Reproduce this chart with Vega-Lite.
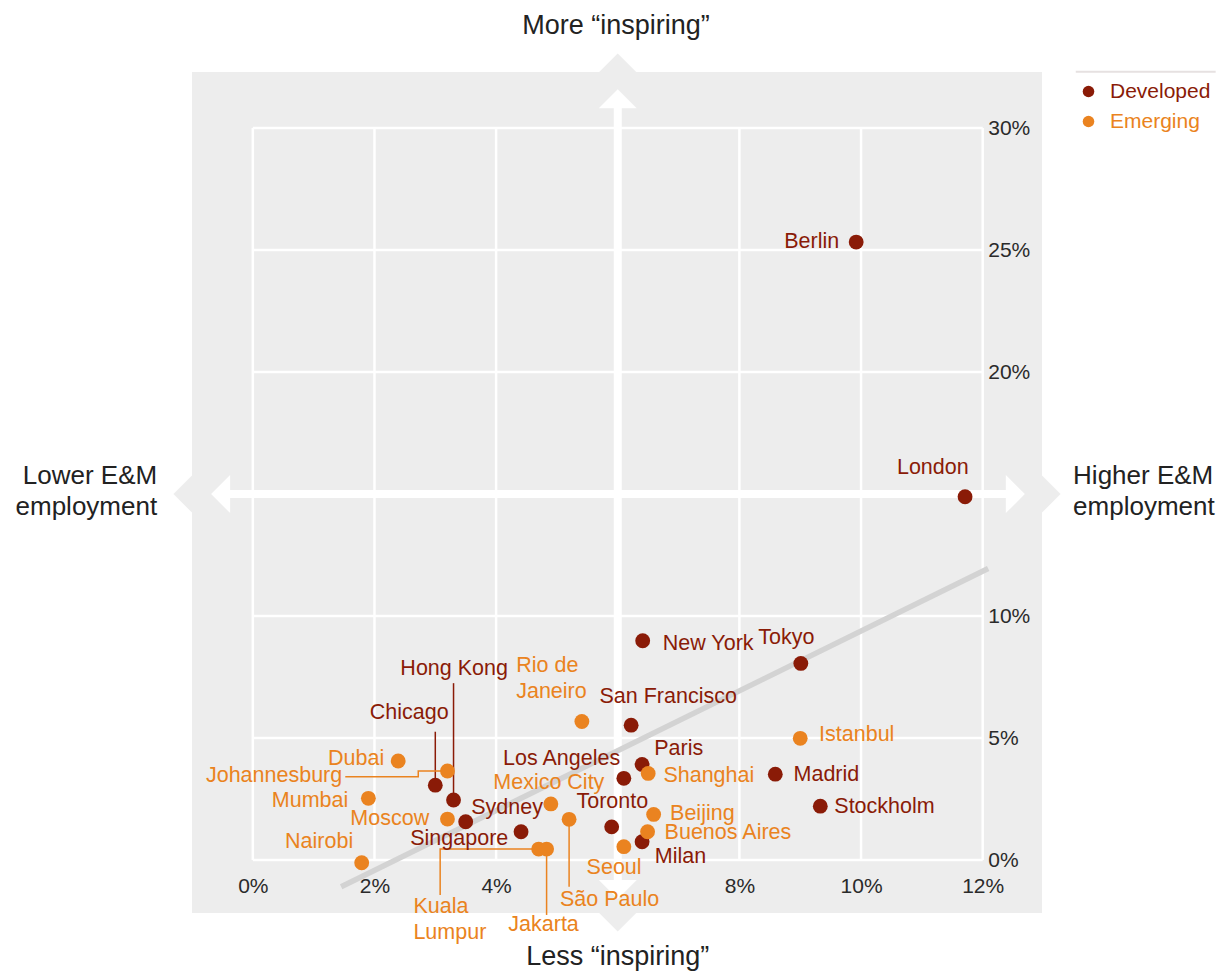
{
  "$schema": "https://vega.github.io/schema/vega-lite/v6.json",
  "width": 850,
  "height": 841,
  "autosize": {"type": "none"},
  "padding": {"left": 192, "top": 72, "right": 190, "bottom": 60},
  "config": {
    "font": "Liberation Sans",
    "view": {"fill": "#ededed", "stroke": null},
    "axis": {"tickSize": 0}
  },
  "data": {"values": [{}]},
  "datasets": {
    "cities": [
      {"city": "Berlin", "group": "Developed", "x": 9.92, "y": 25.33},
      {"city": "London", "group": "Developed", "x": 11.71, "y": 14.89},
      {"city": "New York", "group": "Developed", "x": 6.41, "y": 8.99},
      {"city": "Tokyo", "group": "Developed", "x": 9.01, "y": 8.06},
      {"city": "San Francisco", "group": "Developed", "x": 6.22, "y": 5.53},
      {"city": "Paris", "group": "Developed", "x": 6.40, "y": 3.92},
      {"city": "Los Angeles", "group": "Developed", "x": 6.10, "y": 3.35},
      {"city": "Madrid", "group": "Developed", "x": 8.59, "y": 3.52},
      {"city": "Stockholm", "group": "Developed", "x": 9.33, "y": 2.21},
      {"city": "Chicago", "group": "Developed", "x": 3.00, "y": 3.07},
      {"city": "Hong Kong", "group": "Developed", "x": 3.30, "y": 2.46},
      {"city": "Sydney", "group": "Developed", "x": 3.50, "y": 1.57},
      {"city": "Singapore", "group": "Developed", "x": 4.41, "y": 1.16},
      {"city": "Toronto", "group": "Developed", "x": 5.90, "y": 1.36},
      {"city": "Milan", "group": "Developed", "x": 6.40, "y": 0.75},
      {"city": "Istanbul", "group": "Emerging", "x": 9.00, "y": 4.99},
      {"city": "Rio de Janeiro", "group": "Emerging", "x": 5.41, "y": 5.68},
      {"city": "Dubai", "group": "Emerging", "x": 2.39, "y": 4.06},
      {"city": "Johannesburg", "group": "Emerging", "x": 3.20, "y": 3.65},
      {"city": "Mumbai", "group": "Emerging", "x": 1.90, "y": 2.53},
      {"city": "Moscow", "group": "Emerging", "x": 3.20, "y": 1.68},
      {"city": "Nairobi", "group": "Emerging", "x": 1.79, "y": -0.11},
      {"city": "Mexico City", "group": "Emerging", "x": 4.90, "y": 2.30},
      {"city": "São Paulo", "group": "Emerging", "x": 5.20, "y": 1.67},
      {"city": "Shanghai", "group": "Emerging", "x": 6.50, "y": 3.55},
      {"city": "Beijing", "group": "Emerging", "x": 6.59, "y": 1.87},
      {"city": "Buenos Aires", "group": "Emerging", "x": 6.49, "y": 1.16},
      {"city": "Seoul", "group": "Emerging", "x": 6.10, "y": 0.55},
      {"city": "Kuala Lumpur", "group": "Emerging", "x": 4.70, "y": 0.45},
      {"city": "Jakarta", "group": "Emerging", "x": 4.83, "y": 0.45}
    ],
    "labels": [
      {"city": "New York", "label": "New York", "group": "Developed", "x": 6.74, "y": 8.85},
      {"city": "San Francisco", "label": "San Francisco", "group": "Developed", "x": 5.70, "y": 6.67},
      {"city": "Paris", "label": "Paris", "group": "Developed", "x": 6.60, "y": 4.54},
      {"city": "Shanghai", "label": "Shanghai", "group": "Emerging", "x": 6.75, "y": 3.44},
      {"city": "Beijing", "label": "Beijing", "group": "Emerging", "x": 6.86, "y": 1.87},
      {"city": "Buenos Aires", "label": "Buenos Aires", "group": "Emerging", "x": 6.77, "y": 1.12},
      {"city": "Milan", "label": "Milan", "group": "Developed", "x": 6.61, "y": 0.14},
      {"city": "Istanbul", "label": "Istanbul", "group": "Emerging", "x": 9.31, "y": 5.12},
      {"city": "Madrid", "label": "Madrid", "group": "Developed", "x": 8.89, "y": 3.48},
      {"city": "Stockholm", "label": "Stockholm", "group": "Developed", "x": 9.56, "y": 2.18},
      {"city": "Sydney", "label": "Sydney", "group": "Developed", "x": 3.59, "y": 2.12},
      {"city": "Rio de Janeiro", "label": "Rio de\nJaneiro", "group": "Emerging", "x": 4.33, "y": 7.95},
      {"city": "Kuala Lumpur", "label": "Kuala\nLumpur", "group": "Emerging", "x": 2.64, "y": -1.91},
      {"city": "São Paulo", "label": "São Paulo", "group": "Emerging", "x": 5.05, "y": -1.64},
      {"city": "Tokyo", "label": "Tokyo", "group": "Developed", "x": 8.31, "y": 9.09},
      {"city": "Berlin", "label": "Berlin", "group": "Developed", "x": 9.64, "y": 25.33},
      {"city": "Dubai", "label": "Dubai", "group": "Emerging", "x": 2.16, "y": 4.13},
      {"city": "Johannesburg", "label": "Johannesburg", "group": "Emerging", "x": 1.47, "y": 3.44},
      {"city": "Mumbai", "label": "Mumbai", "group": "Emerging", "x": 1.57, "y": 2.42},
      {"city": "Moscow", "label": "Moscow", "group": "Emerging", "x": 2.90, "y": 1.68},
      {"city": "Nairobi", "label": "Nairobi", "group": "Emerging", "x": 1.65, "y": 0.75},
      {"city": "Los Angeles", "label": "Los Angeles", "group": "Developed", "x": 6.04, "y": 4.14},
      {"city": "Mexico City", "label": "Mexico City", "group": "Emerging", "x": 5.78, "y": 3.17},
      {"city": "Singapore", "label": "Singapore", "group": "Developed", "x": 4.20, "y": 0.85},
      {"city": "Chicago", "label": "Chicago", "group": "Developed", "x": 3.22, "y": 6.04},
      {"city": "London", "label": "London", "group": "Developed", "x": 11.18, "y": 16.07},
      {"city": "Hong Kong", "label": "Hong Kong", "group": "Developed", "x": 3.31, "y": 7.82},
      {"city": "Toronto", "label": "Toronto", "group": "Developed", "x": 5.91, "y": 2.39},
      {"city": "Seoul", "label": "Seoul", "group": "Emerging", "x": 5.94, "y": -0.34},
      {"city": "Jakarta", "label": "Jakarta", "group": "Emerging", "x": 4.78, "y": -2.66}
    ],
    "leaders": [
      {"city": "Hong Kong", "group": "Developed", "order": 1, "x": 3.30, "y": 7.25},
      {"city": "Hong Kong", "group": "Developed", "order": 2, "x": 3.30, "y": 2.46},
      {"city": "Chicago", "group": "Developed", "order": 1, "x": 3.00, "y": 5.26},
      {"city": "Chicago", "group": "Developed", "order": 2, "x": 3.00, "y": 3.07},
      {"city": "Johannesburg", "group": "Emerging", "order": 1, "x": 1.52, "y": 3.41},
      {"city": "Johannesburg", "group": "Emerging", "order": 2, "x": 2.72, "y": 3.41},
      {"city": "Johannesburg", "group": "Emerging", "order": 3, "x": 2.72, "y": 3.65},
      {"city": "Johannesburg", "group": "Emerging", "order": 4, "x": 3.20, "y": 3.65},
      {"city": "Kuala Lumpur", "group": "Emerging", "order": 1, "x": 3.08, "y": -1.43},
      {"city": "Kuala Lumpur", "group": "Emerging", "order": 2, "x": 3.08, "y": 0.45},
      {"city": "Kuala Lumpur", "group": "Emerging", "order": 3, "x": 4.70, "y": 0.45},
      {"city": "Jakarta", "group": "Emerging", "order": 1, "x": 4.83, "y": 0.45},
      {"city": "Jakarta", "group": "Emerging", "order": 2, "x": 4.83, "y": -2.25},
      {"city": "São Paulo", "group": "Emerging", "order": 1, "x": 5.20, "y": 1.67},
      {"city": "São Paulo", "group": "Emerging", "order": 2, "x": 5.20, "y": -1.09}
    ],
    "vgrid": [{"x": 0}, {"x": 2}, {"x": 4}, {"x": 6}, {"x": 8}, {"x": 10}, {"x": 12}],
    "hgrid": [{"y": 0}, {"y": 5}, {"y": 10}, {"y": 15}, {"y": 20}, {"y": 25}, {"y": 30}]
  },
  "layer": [
    {
      "data": {"name": "vgrid"},
      "mark": {"type": "rule", "color": "white", "strokeWidth": 2.5},
      "encoding": {"x": {"field": "x", "type": "quantitative"}, "y": {"datum": 0}, "y2": {"datum": 30}}
    },
    {
      "data": {"name": "hgrid"},
      "mark": {"type": "rule", "color": "white", "strokeWidth": 2.5},
      "encoding": {"y": {"field": "y", "type": "quantitative"}, "x": {"datum": 0}, "x2": {"datum": 12}}
    },
    {
      "mark": {"type": "point", "shape": "M-1,0L0,-1L1,0L0,1Z", "size": 1369, "filled": true, "color": "#ededed", "opacity": 1, "strokeWidth": 0},
      "encoding": {"x": {"datum": 6}, "y": {"datum": 32.3}}
    },
    {
      "mark": {"type": "point", "shape": "M-1,0L0,-1L1,0L0,1Z", "size": 1369, "filled": true, "color": "#ededed", "opacity": 1, "strokeWidth": 0},
      "encoding": {"x": {"datum": 6}, "y": {"datum": -2.17}}
    },
    {
      "mark": {"type": "point", "shape": "M-1,0L0,-1L1,0L0,1Z", "size": 1369, "filled": true, "color": "#ededed", "opacity": 1, "strokeWidth": 0},
      "encoding": {"x": {"datum": -1}, "y": {"datum": 15}}
    },
    {
      "mark": {"type": "point", "shape": "M-1,0L0,-1L1,0L0,1Z", "size": 1369, "filled": true, "color": "#ededed", "opacity": 1, "strokeWidth": 0},
      "encoding": {"x": {"datum": 12.975}, "y": {"datum": 15}}
    },
    {
      "mark": {"type": "rule", "color": "white", "strokeWidth": 8},
      "encoding": {"x": {"datum": -0.38}, "x2": {"datum": 12.39}, "y": {"datum": 15}}
    },
    {
      "mark": {"type": "rule", "color": "white", "strokeWidth": 8},
      "encoding": {"x": {"datum": 6}, "y": {"datum": -0.82}, "y2": {"datum": 30.82}}
    },
    {
      "mark": {"type": "point", "shape": "M-1,0L0,-1L1,0Z", "size": 1444, "filled": true, "color": "white", "opacity": 1, "strokeWidth": 0},
      "encoding": {"x": {"datum": 6}, "y": {"datum": 30.81}}
    },
    {
      "mark": {"type": "point", "shape": "M-1,0L0,1L1,0Z", "size": 1444, "filled": true, "color": "white", "opacity": 1, "strokeWidth": 0},
      "encoding": {"x": {"datum": 6}, "y": {"datum": -0.82}}
    },
    {
      "mark": {"type": "point", "shape": "M0,-1L-1,0L0,1Z", "size": 1444, "filled": true, "color": "white", "opacity": 1, "strokeWidth": 0},
      "encoding": {"x": {"datum": -0.373}, "y": {"datum": 15}}
    },
    {
      "mark": {"type": "point", "shape": "M0,-1L1,0L0,1Z", "size": 1444, "filled": true, "color": "white", "opacity": 1, "strokeWidth": 0},
      "encoding": {"x": {"datum": 12.38}, "y": {"datum": 15}}
    },
    {
      "mark": {"type": "rule", "color": "#d3d3d3", "strokeWidth": 5.5},
      "encoding": {"x": {"datum": 1.452}, "y": {"datum": -1.094}, "x2": {"datum": 12.09}, "y2": {"datum": 11.95}}
    },
    {
      "mark": {"type": "rule", "color": "#e6e1e1", "strokeWidth": 2},
      "encoding": {"x": {"datum": 13.53}, "x2": {"datum": 15.83}, "y": {"datum": 32.31}}
    },
    {
      "data": {"name": "leaders"},
      "mark": {"type": "line", "strokeWidth": 1.5},
      "encoding": {
        "x": {"field": "x", "type": "quantitative"},
        "y": {"field": "y", "type": "quantitative"},
        "detail": {"field": "city"},
        "order": {"field": "order", "type": "quantitative"},
        "color": {"condition": {"test": "datum.group === 'Developed'", "value": "#8a1b07"}, "value": "#ea8320"}
      }
    },
    {
      "data": {"name": "cities"},
      "mark": {"type": "circle", "size": 220, "opacity": 1},
      "encoding": {
        "x": {
          "field": "x", "type": "quantitative",
          "scale": {"domain": [-1, 12.975], "nice": false, "zero": false},
          "axis": {
            "values": [0, 2, 4, 8, 10, 12], "labelExpr": "datum.value + '%'",
            "orient": "bottom", "offset": -53, "domain": false, "ticks": false, "grid": false,
            "labelPadding": 15, "labelFontSize": 21, "labelColor": "#2a2a2a", "labelFlush": false,
            "labelOverlap": false, "title": null
          }
        },
        "y": {
          "field": "y", "type": "quantitative",
          "scale": {"domain": [-2.17, 32.3], "nice": false, "zero": false},
          "axis": {
            "values": [0, 5, 10, 20, 25, 30], "labelExpr": "datum.value + '%'",
            "orient": "right", "offset": -59.3, "domain": false, "ticks": false, "grid": false,
            "labelPadding": 5, "labelFontSize": 21, "labelColor": "#2a2a2a", "labelFlush": false,
            "labelOverlap": false, "title": null
          }
        },
        "color": {
          "field": "group", "type": "nominal",
          "scale": {"domain": ["Developed", "Emerging"], "range": ["#8a1b07", "#ea8320"]},
          "legend": {
            "orient": "none", "legendX": 886, "legendY": 9, "title": null,
            "symbolType": "circle", "symbolSize": 133, "symbolStrokeWidth": 0, "symbolOpacity": 1,
            "labelFontSize": 21, "labelOffset": 11, "rowPadding": 8, "padding": 0,
            "encode": {"labels": {"update": {"fill": {"signal": "datum.value === 'Developed' ? '#8a1b07' : '#ea8320'"}}}}
          }
        }
      }
    },
    {
      "data": {"name": "labels"},
      "transform": [{"filter": {"field": "city", "oneOf": ["New York", "San Francisco", "Paris", "Shanghai", "Beijing", "Buenos Aires", "Milan", "Istanbul", "Madrid", "Stockholm", "Sydney", "Rio de Janeiro", "Kuala Lumpur", "São Paulo", "Tokyo"]}}],
      "mark": {"type": "text", "align": "left", "baseline": "middle", "fontSize": 21.5, "lineBreak": "\n", "lineHeight": 26},
      "encoding": {
        "x": {"field": "x", "type": "quantitative"},
        "y": {"field": "y", "type": "quantitative"},
        "text": {"field": "label"},
        "color": {"condition": {"test": "datum.group === 'Developed'", "value": "#8a1b07"}, "value": "#ea8320"}
      }
    },
    {
      "data": {"name": "labels"},
      "transform": [{"filter": {"field": "city", "oneOf": ["Berlin", "Dubai", "Johannesburg", "Mumbai", "Moscow", "Nairobi", "Los Angeles", "Mexico City", "Singapore", "Chicago"]}}],
      "mark": {"type": "text", "align": "right", "baseline": "middle", "fontSize": 21.5, "lineBreak": "\n", "lineHeight": 26},
      "encoding": {
        "x": {"field": "x", "type": "quantitative"},
        "y": {"field": "y", "type": "quantitative"},
        "text": {"field": "label"},
        "color": {"condition": {"test": "datum.group === 'Developed'", "value": "#8a1b07"}, "value": "#ea8320"}
      }
    },
    {
      "data": {"name": "labels"},
      "transform": [{"filter": {"field": "city", "oneOf": ["London", "Hong Kong", "Toronto", "Seoul", "Jakarta"]}}],
      "mark": {"type": "text", "align": "center", "baseline": "middle", "fontSize": 21.5, "lineBreak": "\n", "lineHeight": 26},
      "encoding": {
        "x": {"field": "x", "type": "quantitative"},
        "y": {"field": "y", "type": "quantitative"},
        "text": {"field": "label"},
        "color": {"condition": {"test": "datum.group === 'Developed'", "value": "#8a1b07"}, "value": "#ea8320"}
      }
    },
    {
      "mark": {"type": "text", "text": "More “inspiring”", "align": "center", "baseline": "middle", "fontSize": 27, "color": "#222222"},
      "encoding": {"x": {"datum": 5.97}, "y": {"datum": 34.2}}
    },
    {
      "mark": {"type": "text", "text": "Less “inspiring”", "align": "center", "baseline": "middle", "fontSize": 27, "color": "#222222"},
      "encoding": {"x": {"datum": 6}, "y": {"datum": -3.98}}
    },
    {
      "mark": {"type": "text", "text": ["Lower E&M", "employment"], "align": "right", "baseline": "middle", "fontSize": 26, "lineHeight": 31, "color": "#222222"},
      "encoding": {"x": {"datum": -1.573}, "y": {"datum": 15.74}}
    },
    {
      "mark": {"type": "text", "text": ["Higher E&M", "employment"], "align": "left", "baseline": "middle", "fontSize": 26, "lineHeight": 31, "color": "#222222"},
      "encoding": {"x": {"datum": 13.486}, "y": {"datum": 15.74}}
    }
  ]
}
